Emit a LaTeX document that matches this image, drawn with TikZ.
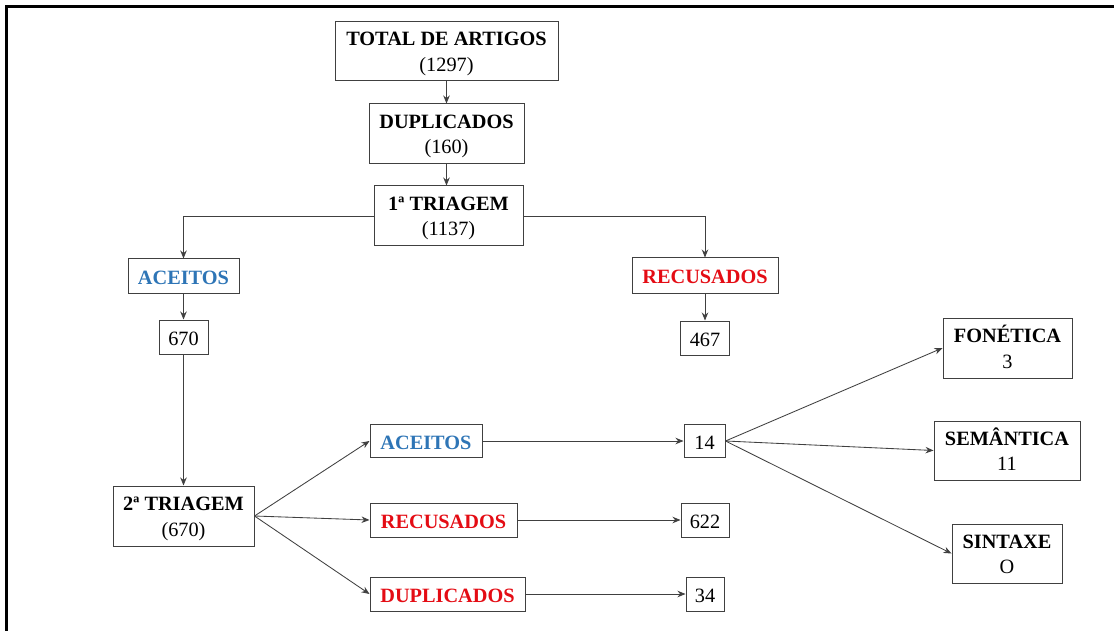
\documentclass[tikz,border=0pt]{standalone}
\usepackage{fontspec}
\setmainfont{Liberation Serif}
\usepackage{xcolor}
\usepackage{tikz}
\usetikzlibrary{arrows.meta, positioning}
\definecolor{okblue}{RGB}{46,117,182}
\definecolor{nored}{RGB}{228,12,20}
\definecolor{edge}{RGB}{64,64,64}
\tikzstyle{plain} = [rectangle, draw=edge, line width=1pt, inner sep=0pt, align=center, font=\fontsize{20.3}{25.5}\selectfont]
\tikzstyle{oneline} = [plain, text height=16pt, text depth=0pt]
\tikzstyle{twoline} = [plain, text height=45pt, text depth=5pt]
\tikzstyle{arrow} = [draw=edge, line width=0.85pt, -{Stealth[length=8pt,width=6.5pt]}]

\begin{document}
\begin{tikzpicture}[x=1pt, y=-1pt]
  \useasboundingbox (0,0) rectangle (1114,631);
  \draw [line width=3pt] (6.5,6.5) rectangle (1140,660);
  % first stage
    \node (total) [twoline, minimum width=223pt, minimum height=59pt] at (446.5,51.5) {\textbf{TOTAL DE ARTIGOS}\\(1297)};
    \node (dup) [twoline, minimum width=155pt, minimum height=60pt] at (446.5,134) {\textbf{DUPLICADOS}\\(160)};
    \node (triagem) [twoline, minimum width=149pt, minimum height=60pt] at (448.5,216) {\textbf{1ª TRIAGEM}\\(1137)};
    \node (aceitos) [oneline, minimum width=111pt, minimum height=34pt, text=okblue] at (183.5,276) {\textbf{ACEITOS}};
    \node (recusados) [oneline, minimum width=146pt, minimum height=35pt, text=nored] at (705,275.5) {\textbf{RECUSADOS}};
    \node (nacc) [oneline, minimum width=49pt, minimum height=34pt] at (183.5,337) {670};
    \node (nrec) [oneline, minimum width=49pt, minimum height=34pt] at (705,338) {467};
  % second stage
    \node (triagemb) [twoline, minimum width=141pt, minimum height=60pt] at (183.5,516) {\textbf{2ª TRIAGEM}\\(670)};
    \node (aceitosb) [oneline, minimum width=112pt, minimum height=33pt, text=okblue] at (426,441) {\textbf{ACEITOS}};
    \node (recusadosb) [oneline, minimum width=147pt, minimum height=34pt, text=nored] at (443.5,520) {\textbf{RECUSADOS}};
    \node (dupb) [oneline, minimum width=155pt, minimum height=34pt, text=nored] at (447.5,594) {\textbf{DUPLICADOS}};
    \node (nacb) [oneline, minimum width=41pt, minimum height=33pt] at (704.5,441) {14};
    \node (nreb) [oneline, minimum width=48pt, minimum height=34pt] at (705,520) {622};
    \node (ndub) [oneline, minimum width=38pt, minimum height=34pt] at (705,594) {34};
  % areas
    \node (fonetica) [twoline, minimum width=129pt, minimum height=60pt] at (1007.5,348) {\textbf{FONÉTICA}\\3};
    \node (semantica) [twoline, minimum width=146pt, minimum height=59pt] at (1007,450.5) {\textbf{SEMÂNTICA}\\11};
    \node (sintaxe) [twoline, minimum width=110pt, minimum height=59pt] at (1007,553.5) {\textbf{SINTAXE}\\O};
  %arrows
    \draw [arrow] (total) -- (dup);
    \draw [arrow] (dup) -- (dup |- triagem.north);
    \draw [arrow] (triagem.west) -| (aceitos.north);
    \draw [arrow] (triagem.east) -| (recusados.north);
    \draw [arrow] (aceitos) -- (nacc);
    \draw [arrow] (recusados) -- (nrec);
    \draw [arrow] (nacc) -- (triagemb);
    \draw [arrow] (triagemb.east) -- (aceitosb.west);
    \draw [arrow] (triagemb.east) -- (recusadosb.west);
    \draw [arrow] (triagemb.east) -- (dupb.west);
    \draw [arrow] (aceitosb) -- (nacb);
    \draw [arrow] (recusadosb) -- (nreb);
    \draw [arrow] (dupb) -- (ndub);
    \draw [arrow] (nacb.east) -- (fonetica.west);
    \draw [arrow] (nacb.east) -- (semantica.west);
    \draw [arrow] (nacb.east) -- (sintaxe.west);
  \end{tikzpicture}
\end{document}
